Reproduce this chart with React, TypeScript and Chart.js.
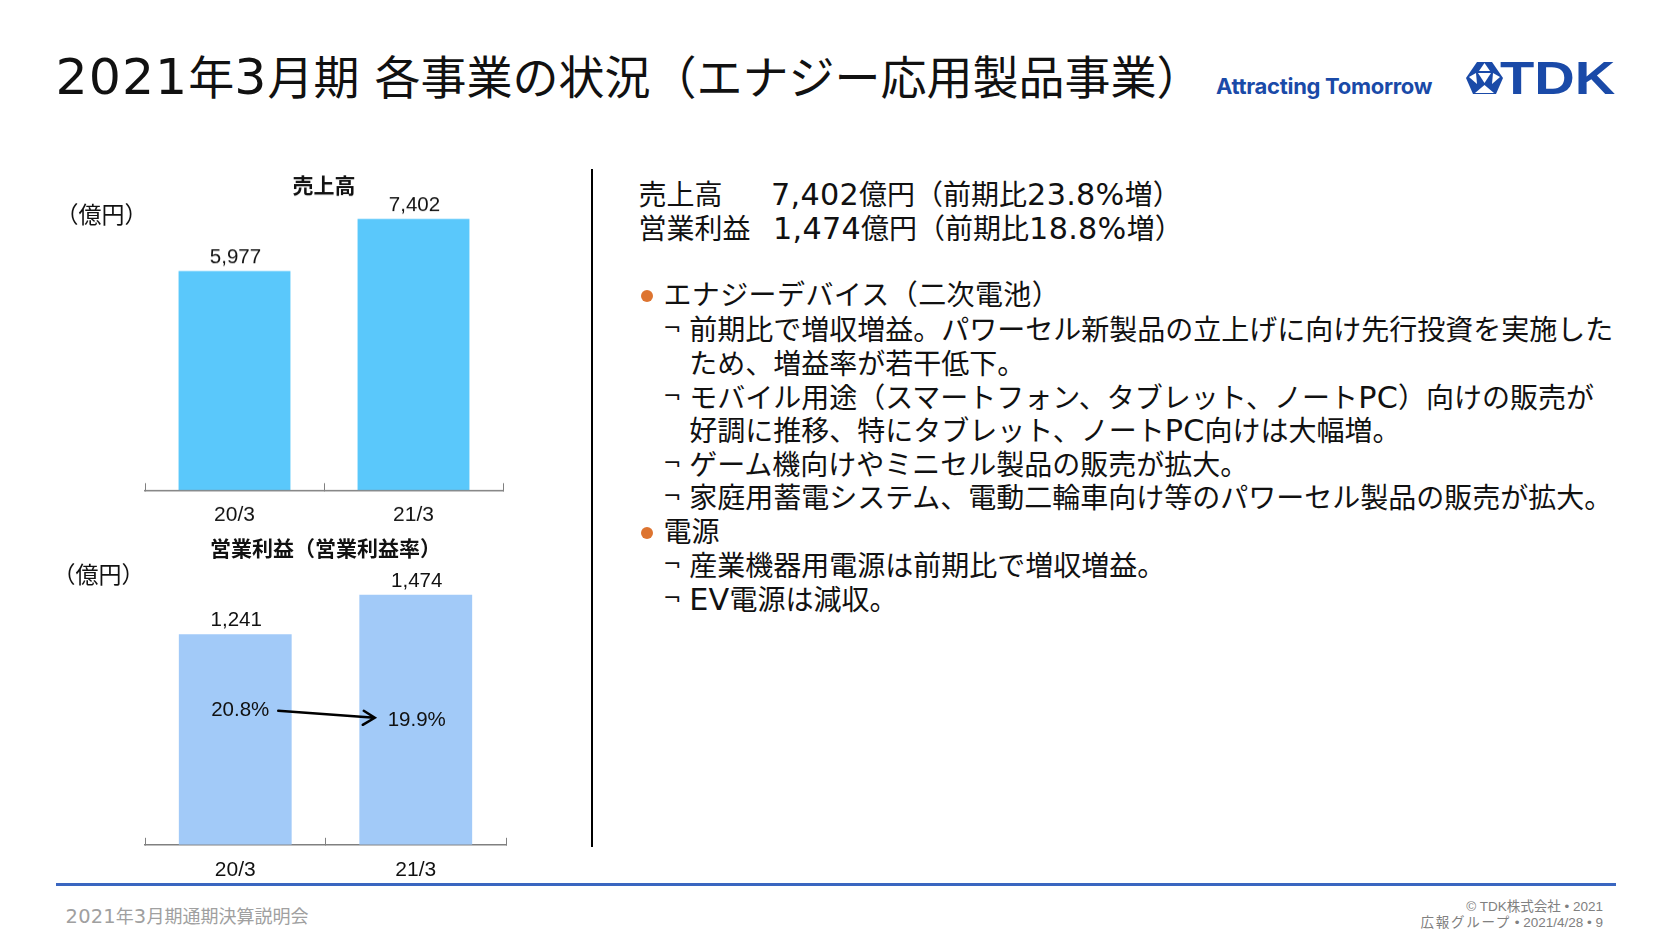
import { useEffect, useRef } from "react"
import { Chart, registerables } from "chart.js"

Chart.register(...registerables)

const jp = '"Noto Sans CJK JP", "Noto Sans", sans-serif'
const latin = '"Liberation Sans", Arial, sans-serif'
const wide = '"DejaVu Sans", sans-serif'

const periods = ["20/3", "21/3"]
const salesValues = [5977, 7402]
const profitValues = [1241, 1474]
const marginLabels = ["20.8%", "19.9%"]

const bodyLines = [
  { y: 327.5, text: "前期比で増収増益。パワーセル新製品の立上げに向け先行投資を実施した" },
  { y: 361.7, text: "ため、増益率が若干低下。" },
  { y: 396.4, text: "モバイル用途（スマートフォン、タブレット、ノートPC）向けの販売が" },
  { y: 428.7, text: "好調に推移、特にタブレット、ノートPC向けは大幅増。" },
  { y: 463.2, text: "ゲーム機向けやミニセル製品の販売が拡大。" },
  { y: 496.4, text: "家庭用蓄電システム、電動二輪車向け等のパワーセル製品の販売が拡大。" },
  { y: 563.7, text: "産業機器用電源は前期比で増収増益。" },
  { y: 598, text: "EV電源は減収。" },
]
const markYs = [327.5, 396.4, 463.2, 496.4, 563.7, 598]

// value labels above the bars, plus the margin note on the profit chart
const barNotes = {
  id: "barNotes",
  afterDatasetsDraw(chart: any) {
    const { ctx, chartArea } = chart
    const bars = chart.getDatasetMeta(0).data
    ctx.save()
    ctx.fillStyle = "#111"
    ctx.font = `20.5px ${latin}`
    ctx.textAlign = "center"
    ctx.textBaseline = "alphabetic"
    bars.forEach((bar: any, i: number) => {
      const value = chart.data.datasets[0].data[i]
      ctx.fillText(value.toLocaleString("en-US"), bar.x + 1, bar.y - 8)
    })
    const notes = chart.options.plugins.barNotes?.margins
    if (notes) {
      ctx.textBaseline = "middle"
      ctx.fillText(notes[0], bars[0].x + 5, chartArea.bottom - 134)
      ctx.fillText(notes[1], bars[1].x + 1, chartArea.bottom - 124)
      const x1 = bars[0].x + 43
      const y1 = chartArea.bottom - 134
      const x2 = bars[1].x - 41
      const y2 = chartArea.bottom - 127
      ctx.strokeStyle = "#000"
      ctx.lineWidth = 2.5
      ctx.lineCap = "round"
      ctx.beginPath()
      ctx.moveTo(x1, y1)
      ctx.lineTo(x2, y2)
      ctx.moveTo(x2 - 11, y2 - 7)
      ctx.lineTo(x2, y2)
      ctx.lineTo(x2 - 12, y2 + 7)
      ctx.stroke()
    }
    ctx.restore()
  },
}

interface BarPanelProps {
  title: string
  values: number[]
  color: string
  yMax: number
  left: number
  top: number
  width: number
  height: number
  padLeft: number
  padRight: number
  margins?: string[]
}

function BarPanel({ title, values, color, yMax, left, top, width, height, padLeft, padRight, margins }: BarPanelProps) {
  const canvasRef = useRef<HTMLCanvasElement>(null)

  useEffect(() => {
    if (!canvasRef.current) return
    const chart = new Chart(canvasRef.current, {
      type: "bar",
      data: {
        labels: periods,
        datasets: [
          {
            data: values,
            backgroundColor: color,
            borderWidth: 0,
            barPercentage: 0.625,
            categoryPercentage: 1,
          },
        ],
      },
      options: {
        animation: false,
        responsive: true,
        maintainAspectRatio: false,
        layout: { padding: { left: padLeft, right: padRight, top: 0, bottom: 0 } },
        plugins: {
          legend: { display: false },
          tooltip: { enabled: false },
          title: {
            display: true,
            text: title,
            color: "#111",
            font: { family: jp, size: 21, weight: "bold", lineHeight: 1.2 },
            padding: { top: 0, bottom: 0 },
          },
          barNotes: { margins },
        } as any,
        scales: {
          x: {
            grid: { drawOnChartArea: false, tickLength: -7, color: "#808080", lineWidth: 1 },
            border: { color: "#808080", width: 1.5 },
            ticks: { color: "#111", font: { family: latin, size: 21 }, padding: 19.5, maxRotation: 0 },
          },
          y: { display: false, min: 0, max: yMax },
        },
      },
      plugins: [barNotes],
    })
    return () => chart.destroy()
  }, [])

  return (
    <div style={{ position: "absolute", left, top, width, height }}>
      <canvas ref={canvasRef} />
    </div>
  )
}

// digits and latin letters are wider in the slide's font, so they get their own span
function Txt({ x, y, size, color = "#111", family = jp, weight = 400, scale = 1.08, spacing = 0.01, tracking = 0, children }: any) {
  const parts = String(children).split(/([0-9A-Za-z,.%/]+)/)
  return (
    <div
      style={{
        position: "absolute",
        left: x,
        top: y,
        transform: "translateY(-50%)",
        fontFamily: family,
        fontSize: size,
        fontWeight: weight,
        color,
        lineHeight: 1,
        letterSpacing: tracking,
        wordSpacing: "0.1em",
        whiteSpace: "pre",
      }}
    >
      {parts.map((part, i) =>
        i % 2 === 1 ? (
          <span key={i} style={{ fontFamily: wide, fontSize: `${scale}em`, letterSpacing: `${spacing}em`, lineHeight: 0 }}>{part}</span>
        ) : (
          part
        )
      )}
    </div>
  )
}

function Dot({ y }: { y: number }) {
  return (
    <div
      style={{
        position: "absolute",
        left: 640.5,
        top: y - 6,
        width: 12,
        height: 12,
        borderRadius: "50%",
        background: "#dd7430",
      }}
    />
  )
}

export default function App() {
  return (
    <div style={{ position: "absolute", left: 0, top: 0, width: 1676, height: 944, background: "#fff", overflow: "hidden" }}>
      <Txt x={55.5} y={74} size={46} scale={1.1} spacing={0.02}>2021年3月期 各事業の状況（エナジー応用製品事業）</Txt>
      <div style={{ position: "absolute", left: 1216, top: 74, fontFamily: "Inter, sans-serif", fontSize: 22, fontWeight: 700, lineHeight: "24px", color: "#1a4aa8", letterSpacing: -0.3 }}>
        Attracting Tomorrow
      </div>

      <svg style={{ position: "absolute", left: 1466, top: 62 }} width={37} height={32} viewBox="0 0 37 32">
        <polygon points="11,0 26,0 37,16 30,32 7,32 0,16" fill="#1a4aa8" />
        <g fill="#fff">
          <polygon points="18.5,1 13,9 24,9" />
          <polygon points="12,11 25,11 18.5,21" />
          <polygon points="3,15 10,11 11,22" />
          <polygon points="34,15 27,11 26,22" />
          <polygon points="18.5,23 9,31 28,31" />
        </g>
      </svg>
      <div
        style={{
          position: "absolute",
          left: 1500.4,
          top: 54,
          fontFamily: latin,
          fontWeight: 700,
          fontSize: 46,
          lineHeight: "48px",
          color: "#1a4aa8",
          transform: "scaleX(1.22)",
          transformOrigin: "left center",
        }}
      >
        TDK
      </div>

      <BarPanel title="売上高" values={salesValues} color="#5ac8fb" yMax={7992} left={141} top={172} width={380} height={374.5} padLeft={4} padRight={18} />
      <BarPanel title="営業利益（営業利益率）" values={profitValues} color="#a2caf8" yMax={1677} left={131} top={534.5} width={379} height={367} padLeft={14} padRight={4} margins={marginLabels} />

      <Txt x={55.5} y={213} size={23}>（億円）</Txt>
      <Txt x={52.5} y={572.7} size={23}>（億円）</Txt>

      <div style={{ position: "absolute", left: 591, top: 169, width: 2, height: 678, background: "#000" }} />

      <Txt x={638.5} y={193} size={28}>売上高</Txt>
      <Txt x={771} y={193} size={28}>7,402億円（前期比23.8%増）</Txt>
      <Txt x={638.5} y={226.5} size={28}>営業利益</Txt>
      <Txt x={773} y={226.5} size={28}>1,474億円（前期比18.8%増）</Txt>

      <Dot y={296} />
      <Txt x={663.4} y={293.3} size={28} tracking={0.4}>エナジーデバイス（二次電池）</Txt>
      <Dot y={532.5} />
      <Txt x={663.4} y={529.5} size={28}>電源</Txt>

      {markYs.map((y) => (
        <Txt key={y} x={663} y={y} size={22} family={wide}>¬</Txt>
      ))}
      {bodyLines.map((line) => (
        <Txt key={line.y} x={689.2} y={line.y} size={28}>{line.text}</Txt>
      ))}

      <div style={{ position: "absolute", left: 55.6, top: 883, width: 1560, height: 2.5, background: "#3a66c0" }} />
      <Txt x={65.6} y={914.5} size={18} color="#a0a0a0">2021年3月期通期決算説明会</Txt>
      <div style={{ position: "absolute", right: 73, top: 899, textAlign: "right", fontFamily: `${latin.split(",")[0]}, ${jp}`, fontSize: 13.5, lineHeight: "15.5px", color: "#808080" }}>
        <div>© TDK株式会社 • 2021</div>
        <div><span style={{ letterSpacing: 1.7 }}>広報グループ</span> • 2021/4/28 • 9</div>
      </div>
    </div>
  )
}
